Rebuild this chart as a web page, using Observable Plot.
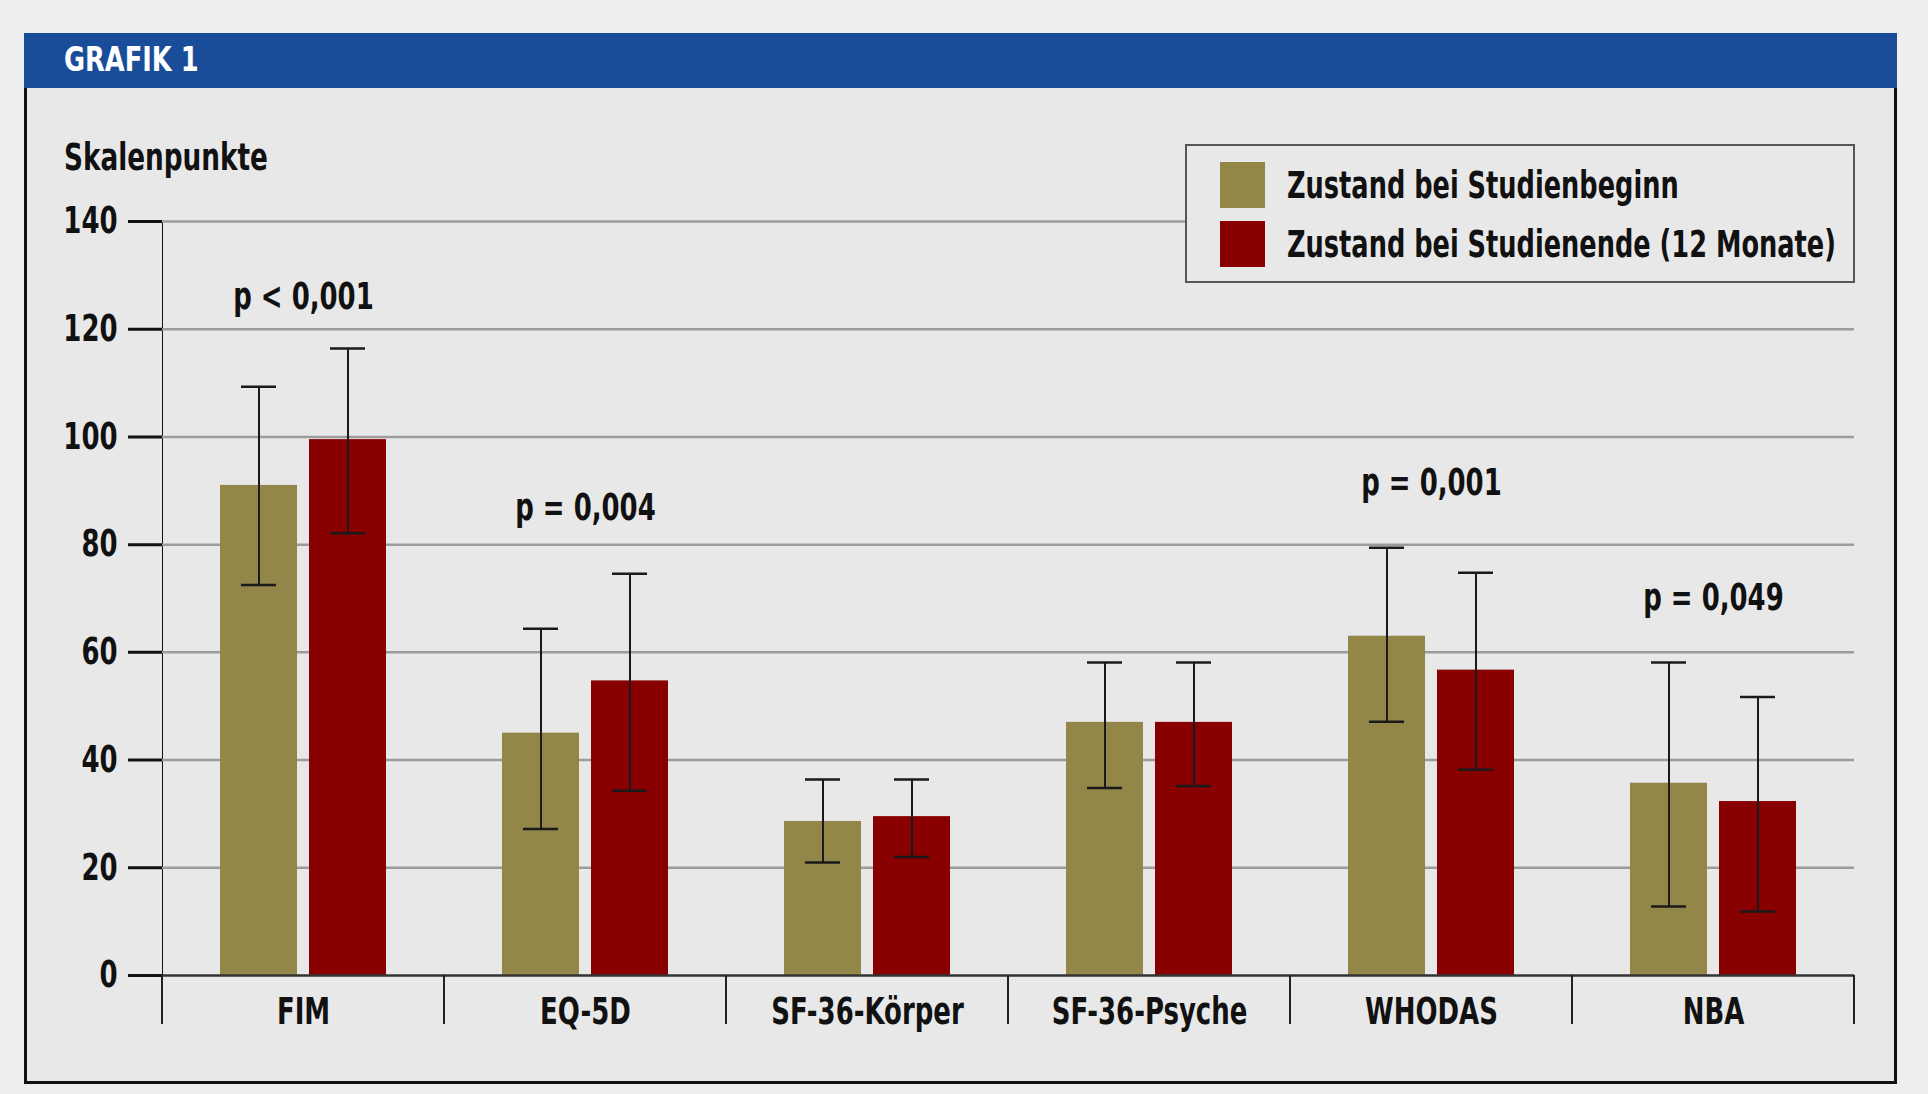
<!DOCTYPE html>
<html>
<head>
<meta charset="utf-8">
<script src="https://cdn.jsdelivr.net/npm/d3@7"></script>
<script src="https://cdn.jsdelivr.net/npm/@observablehq/plot@0.6"></script>
<style>
  html, body { margin: 0; padding: 0; }
  body {
    width: 1928px; height: 1094px; position: relative; overflow: hidden;
    background: #eeeeee;
    font-family: "Liberation Sans Narrow", "DejaVu Sans Condensed", Arial, sans-serif;
    color: #111;
  }
  #box {
    position: absolute; left: 24px; top: 33px; width: 1873px; height: 1051px;
    box-sizing: border-box; border: 3px solid #111; border-top: none; background: #e8e8e8;
  }
  #header {
    position: absolute; left: 24px; top: 33px; width: 1873px; height: 55px; background: #1a4d99;
  }
  #title {
    position: absolute; left: 64px; top: 42px; line-height: 34px; font-size: 34px;
    font-weight: bold; color: #fff; transform: scaleX(0.84); transform-origin: left center;
  }
  #ylabel {
    position: absolute; left: 64px; top: 139px; line-height: 37px; font-size: 37px; font-weight: bold;
    transform: scaleX(0.79); transform-origin: left center;
  }
  #chart { position: absolute; left: 0; top: 100px; }
  #legend {
    position: absolute; left: 1185px; top: 144px; width: 670px; height: 139px;
    box-sizing: border-box; border: 2px solid #555; background: #e8e8e8; z-index: 5;
  }
  .lg-item { position: absolute; left: 33px; height: 46px; display: flex; align-items: center; }
  .lg-sw { width: 45px; height: 46px; margin-right: 22px; flex: none; }
  .lg-tx { font-size: 37px; font-weight: bold; line-height: 37px; white-space: nowrap;
           transform: scaleX(0.77); transform-origin: left center; }
</style>
</head>
<body>
<div id="box"></div>
<div id="header"></div>
<div id="title">GRAFIK 1</div>
<div id="ylabel">Skalenpunkte</div>
<div id="chart"></div>
<div id="legend"></div>
<script>
// ---- data ----
const categories = ["FIM", "EQ-5D", "SF-36-Körper", "SF-36-Psyche", "WHODAS", "NBA"];
const series = ["Zustand bei Studienbeginn", "Zustand bei Studienende (12 Monate)"];
const seriesColors = ["#928649", "#880000"];

const beginMean = [91, 45, 28.6, 47, 63, 35.7];
const beginLow  = [72.5, 27.2, 21, 34.8, 47.1, 12.8];
const beginHigh = [109.3, 64.4, 36.4, 58.1, 79.4, 58.1];

const endMean = [99.5, 54.7, 29.5, 47, 56.7, 32.3];
const endLow  = [82.1, 34.3, 22, 35.2, 38.2, 11.9];
const endHigh = [116.4, 74.6, 36.4, 58.1, 74.8, 51.7];

const pLabels = ["p < 0,001", "p = 0,004", "", "", "p = 0,001", "p = 0,049"];
const pLabelY = [126, 86.7, null, null, 91.5, 70];

const yTicks = [0, 20, 40, 60, 80, 100, 120, 140];

// ---- table built from the arrays ----
const rows = [];
categories.forEach((c, i) => {
  rows.push({kategorie: c, zeit: series[0], mean: beginMean[i], lo: beginLow[i], hi: beginHigh[i], p: pLabels[i], py: pLabelY[i]});
  rows.push({kategorie: c, zeit: series[1], mean: endMean[i], lo: endLow[i], hi: endHigh[i], p: pLabels[i], py: pLabelY[i]});
});

const FONT = '"Liberation Sans Narrow", "DejaVu Sans Condensed", Arial, sans-serif';

// category separators below the baseline, drawn from the facet's x range
function separators(index, scales) {
  const x = scales.x, y = scales.y;
  const [x0, x1] = x.range();
  const y0 = y(0);
  const g = d3.create("svg:g").attr("stroke", "#222").attr("stroke-width", 2);
  for (const xx of [x0, x1]) {
    g.append("line").attr("x1", xx).attr("x2", xx).attr("y1", y0).attr("y2", y0 + 49);
  }
  return g.node();
}

const plot = Plot.plot({
  width: 1928,
  height: 960,
  marginLeft: 162,
  marginRight: 74,
  marginTop: 121,
  marginBottom: 85,
  style: {background: "transparent", fontFamily: FONT, fontSize: "37px", fontWeight: "bold", color: "#111", overflow: "visible"},
  facet: {data: rows, x: "kategorie"},
  fx: {domain: categories, padding: 0, axis: "bottom", tickSize: 0, tickPadding: 22, label: null},
  x: {domain: series, axis: null, paddingInner: 0.137, paddingOuter: 0.639},
  y: {domain: [0, 140], ticks: yTicks, tickSize: 34, tickPadding: 11, line: true, label: null},
  color: {domain: series, range: seriesColors},
  marks: [
    Plot.ruleY(yTicks.filter(d => d > 0), {stroke: "#9c9c9c", strokeWidth: 2.5}),
    Plot.barY(rows, {x: "zeit", y: "mean", fill: "zeit"}),
    Plot.ruleY([0], {stroke: "#333", strokeWidth: 2.5}),
    Plot.ruleX(rows, {x: "zeit", y1: "lo", y2: "hi", stroke: "#1a1a1a", strokeWidth: 2}),
    Plot.tickY(rows, {x: "zeit", y: "lo", stroke: "#1a1a1a", strokeWidth: 2.5, insetLeft: 21, insetRight: 21}),
    Plot.tickY(rows, {x: "zeit", y: "hi", stroke: "#1a1a1a", strokeWidth: 2.5, insetLeft: 21, insetRight: 21}),
    Plot.text(rows, {filter: d => d.zeit === series[0] && d.p, text: "p", y: "py", fill: "#111"}),
    separators
  ]
});
document.getElementById("chart").appendChild(plot);

// condensed look: compress SVG text glyphs horizontally (the reference uses a condensed face)
d3.select(plot).selectAll("text").each(function () {
  const len = this.getComputedTextLength ? this.getComputedTextLength() : 0;
  if (len > 0) {
    this.setAttribute("textLength", (len * 0.78).toFixed(1));
    this.setAttribute("lengthAdjust", "spacingAndGlyphs");
  }
});
// heavier y tick marks
d3.select(plot).selectAll('[aria-label="y-axis"] .tick line, [aria-label="y-axis tick"] path, [aria-label="y-axis tick"] line')
  .attr("stroke-width", 3).attr("stroke", "#111");

// legend from the same series/colour arrays
const legend = document.getElementById("legend");
series.forEach((s, i) => {
  const item = document.createElement("div");
  item.className = "lg-item";
  item.style.top = (16 + i * 59) + "px";
  const sw = document.createElement("div");
  sw.className = "lg-sw";
  sw.style.background = plot.scale("color").apply(s);
  const tx = document.createElement("div");
  tx.className = "lg-tx";
  tx.textContent = s;
  item.appendChild(sw); item.appendChild(tx);
  legend.appendChild(item);
});
</script>
</body>
</html>
